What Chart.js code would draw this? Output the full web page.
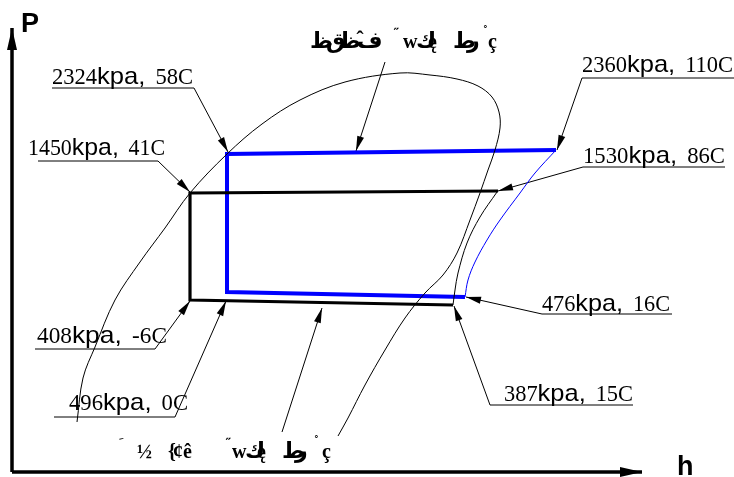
<!DOCTYPE html>
<html><head><meta charset="utf-8">
<script src="https://cdn.jsdelivr.net/npm/chart.js@4/dist/chart.umd.min.js"></script>
<style>html,body{margin:0;padding:0;background:#fff;overflow:hidden}#wrap{width:734px;height:477px}</style>
</head><body><div id="wrap"><canvas id="c" width="734" height="477"></canvas></div>
<script>
// Sheet coordinates: h runs to the right, P upward (y axis reversed: 0 at top)
const domeH = [77,83,95,115,140,165,190,227,262,300,345,400,430,457,478,492,499,500,495,488,480,470,457,443,425,405,385,365,348,338];
const domeP = [422,378,347,300,262,228,193,154,124,100,82,73,75,79,86,97,112,128,150,170,193,220,253,275,293,318,350,385,418,436];

const blueH = [556,227,227,465];
const blueP = [150,154,292,297];
const blueCurveH = [465,468,475,487,500,520,535,556];
const blueCurveP = [297,280,262,240,220,193,173,150];

const blackH = [498,190,190,453];
const blackP = [191,193,300,305];
const blackCurveH = [453,455,458,467,480,497];
const blackCurveP = [305,290,273,243,217,192];

const axisYH = [12,12], axisYP = [472,28];
const axisXH = [12,642], axisXP = [472,472];

const stateLabels = ['2324kpa, 58C','1450kpa, 41C','2360kpa, 110C','1530kpa, 86C','476kpa, 16C','387kpa, 15C','408kpa, -6C','496kpa, 0C'];
const leaderH = [[52,194,228],[38,158,190],[734,582,557],[725,583,498],[672,542,466],[633,490,454],[35,155,190],[54,175,226],[282,322],[385,356]];
const leaderP = [[88,88,152],[161,161,192],[78,78,150],[167,167,191],[314,314,297],[405,405,306],[349,349,301],[417,417,301],[432,308],[62,151]];
// garbled caption glyphs (drawn one by one so they keep their left-to-right order)
const topGlyphs = ['ﻅ','ﻕ','ﻅ','ﻑ','̂','˝','w','ﻙ','ę','ﻁ','ﺭ','˚','ç'];
const bottomGlyphs = ['ﹶ','½','{','¢','ê','˝','w','ﻙ','ę','ﻁ','ﺭ','˚','ç'];
const axisTitleP = 'P', axisTitleH = 'h';

function pts(xs, ys){ return xs.map((x,i)=>({x:x, y:ys[i]})); }

const datasets = [
  {data:pts(domeH,domeP), borderColor:'#000', borderWidth:1, tension:0.35},
  {data:pts(blackH,blackP), borderColor:'#000', borderWidth:3.2, tension:0, borderJoinStyle:'miter'},
  {data:pts(blackCurveH,blackCurveP), borderColor:'#000', borderWidth:1, tension:0.35},
  {data:pts(blueH,blueP), borderColor:'#0000ff', borderWidth:4, tension:0, borderJoinStyle:'miter'},
  {data:pts(blueCurveH,blueCurveP), borderColor:'#0000ff', borderWidth:1, tension:0.35},
  {data:pts(axisYH,axisYP), borderColor:'#000', borderWidth:3.5, tension:0, arrow:{L:22,W:5}},
  {data:pts(axisXH,axisXP), borderColor:'#000', borderWidth:3.5, tension:0, arrow:{L:22,W:5}}
];
leaderH.forEach((hs,i)=>{
  datasets.push({data:pts(hs,leaderP[i]), borderColor:'#000', borderWidth:1, tension:0, arrow:{L:15,W:3.5}});
});
datasets.forEach(d=>{ d.showLine=true; d.fill=false; d.pointRadius=0; d.borderCapStyle='butt'; });

// label placement on the sheet: left x, baseline, width
const labelBox = [[52,84,141],[28,155,137],[582,72,151],[583,163,142],[542,311,128],[504,401,129],[37,343,130],[69,410,119]];
// caption glyph placement: x, baseline shift, size
const topPos = [[310,0,22],[326,0,22],[338,0,22],[357,0,22],[360,-2,22],[394,-10,14],[403,0,20],[416,0,22],[428,0,20],[453,0,22],[467,0,22],[483,-12,14],[488,0,20]];
const bottomPos = [[119,-10,14],[137,0,20],[168,0,20],[173,0,20],[183,0,20],[226,-10,14],[232,0,20],[245,0,22],[257,0,20],[282,0,22],[295,0,22],[314,-12,14],[322,0,20]];

const overlay = {
  id:'overlay',
  afterDatasetsDraw(chart){
    const ctx = chart.ctx, xs = chart.scales.x, ys = chart.scales.y;
    ctx.save();
    // arrowheads
    chart.data.datasets.forEach(d=>{
      if(!d.arrow) return;
      const n = d.data.length;
      const tx = xs.getPixelForValue(d.data[n-1].x), ty = ys.getPixelForValue(d.data[n-1].y);
      const fx = xs.getPixelForValue(d.data[n-2].x), fy = ys.getPixelForValue(d.data[n-2].y);
      const a = Math.atan2(ty-fy, tx-fx);
      const L = d.arrow.L, W = d.arrow.W;
      ctx.fillStyle = '#000';
      ctx.beginPath();
      ctx.moveTo(tx,ty);
      ctx.lineTo(tx - L*Math.cos(a) - W*Math.sin(a), ty - L*Math.sin(a) + W*Math.cos(a));
      ctx.lineTo(tx - L*Math.cos(a) + W*Math.sin(a), ty - L*Math.sin(a) - W*Math.cos(a));
      ctx.closePath();
      ctx.fill();
    });
    // state labels
    ctx.fillStyle = '#000';
    ctx.textBaseline = 'alphabetic';
    stateLabels.forEach((s,i)=>{
      const m = s.match(/^([\d.]+)(kpa,)\s*(.*)$/);
      const parts = [
        {t:m[1], f:'24px "Liberation Serif"', sx:0.88},
        {t:m[2], f:'24px "Liberation Sans"', sx:1},
        {t:' ', f:'24px "Liberation Sans"', sx:1.4},
        {t:m[3], f:'24px "Liberation Serif"', sx:0.88}
      ];
      let W = 0;
      parts.forEach(p=>{ ctx.font=p.f; p.w = ctx.measureText(p.t).width*p.sx; W += p.w; });
      const [x0,y0,tw] = labelBox[i];
      const k = tw / W;
      let x = xs.getPixelForValue(x0); const y = ys.getPixelForValue(y0);
      parts.forEach(p=>{
        ctx.font = p.f;
        ctx.save(); ctx.translate(x,y); ctx.scale(p.sx*k,1); ctx.fillText(p.t,0,0); ctx.restore();
        x += p.w*k;
      });
    });
    // garbled captions, glyph by glyph
    function glyphs(list, pos, base){
      list.forEach((g,i)=>{
        const [x,dy,sz] = pos[i];
        ctx.font = 'bold ' + sz + 'px "Liberation Serif", "DejaVu Sans"';
        ctx.fillText(g, x, base + dy);
      });
    }
    glyphs(topGlyphs, topPos, 48);
    glyphs(bottomGlyphs, bottomPos, 458);
    // axis titles
    ctx.font = 'bold 27px "Liberation Sans"';
    ctx.fillText(axisTitleP, 21, 32);
    ctx.fillText(axisTitleH, 677, 475);
    ctx.restore();
  }
};

new Chart(document.getElementById('c'), {
  type:'scatter',
  data:{datasets:datasets},
  options:{
    responsive:false, animation:false, devicePixelRatio:1,
    layout:{padding:0},
    plugins:{legend:{display:false}, tooltip:{enabled:false}},
    scales:{
      x:{type:'linear', min:0, max:734, display:false},
      y:{type:'linear', min:0, max:477, reverse:true, display:false}
    }
  },
  plugins:[overlay]
});
</script></body></html>
